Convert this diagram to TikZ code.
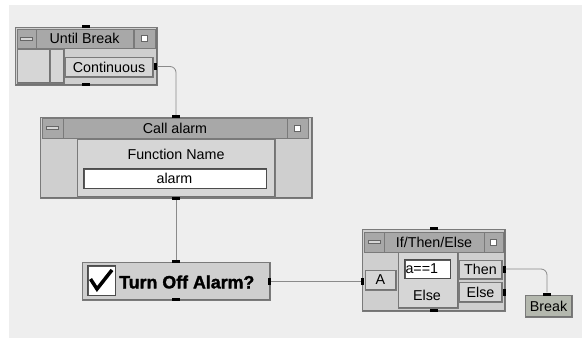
\documentclass[tikz,border=0pt]{standalone}
\usepackage{fontspec}
\setsansfont{Liberation Sans}
\newfontfamily\heavyfont{Liberation Sans}[BoldFont={Liberation Sans Bold}, BoldFeatures={FakeBold=1.6}]
\usepackage{xcolor}
\definecolor{veeBg}{HTML}{EEEEEE}
\definecolor{veeBody}{HTML}{CFCFCF}
\definecolor{veeBtn}{HTML}{D6D6D6}
\definecolor{veeTitle}{HTML}{A8A8A8}
\definecolor{veeEdge}{HTML}{7A7A7A}
\definecolor{veeWire}{HTML}{8A8A8A}
\definecolor{veeBreak}{HTML}{B4B8AE}

\tikzset{
    raised/.style={path picture={
        \draw[white,line width=2pt] (path picture bounding box.south west) |- (path picture bounding box.north east);
        \draw[black!55,line width=2pt] (path picture bounding box.south west) -| (path picture bounding box.north east);}},
    sunken/.style={path picture={
        \draw[black!65,line width=3pt] (path picture bounding box.south west) |- (path picture bounding box.north east);}},
    box/.style={draw=veeEdge, fill=veeBody, inner sep=0pt, raised},
    titlebar/.style={draw=veeEdge, fill=veeTitle, inner sep=0pt, font=\sffamily\fontsize{14.3}{16}\selectfont},
    btn/.style={draw=veeEdge, fill=veeBtn, inner sep=0pt, raised, font=\sffamily\fontsize{14.3}{16}\selectfont},
    minbtn/.style={btn, fill=veeTitle, path picture={
        \draw[black!60, fill=veeBtn] ([xshift=-6pt,yshift=-1.5pt]path picture bounding box.center) rectangle ([xshift=6pt,yshift=1.5pt]path picture bounding box.center);}},
    maxbtn/.style={btn, fill=veeTitle, path picture={
        \draw[black!60, fill=white] ([xshift=-3pt,yshift=-3pt]path picture bounding box.center) rectangle ([xshift=3pt,yshift=3pt]path picture bounding box.center);}},
    field/.style={draw=black!70, fill=white, inner sep=1pt, sunken, font=\sffamily\fontsize{14.3}{16}\selectfont},
    pin/.style={fill=black, inner sep=0pt},
    wire/.style={draw=veeWire, line width=0.8pt, rounded corners=6pt}
}

\begin{document}
\begin{tikzpicture}[x=1pt, y=-1pt]
    \useasboundingbox (0,0) rectangle (582,338);
    \fill[veeBg] (9,5) rectangle (582,338);

    % Until Break
    \node[box, minimum width=142, minimum height=58] (ub) at (86,56) {};
    \node[minbtn, minimum width=19, minimum height=19] (ubMin) at (26.5,38.5) {};
    \node[titlebar, minimum width=97, minimum height=19] (ubTitle) at (84.5,38.5) {Until Break};
    \node[maxbtn, minimum width=21, minimum height=19] (ubMax) at (144.5,38.5) {};
    \node[btn, minimum width=33, minimum height=34] (ubLeft) at (33.5,66) {};
    \node[btn, minimum width=14, minimum height=34] (ubSlider) at (57,66) {};
    \node[btn, minimum width=88, minimum height=20] (ubCont) at (109,67) {Continuous};
    \node[pin, minimum width=8, minimum height=3] (ubTop) at (86,26.5) {};
    \node[pin, minimum width=8, minimum height=3] (ubBot) at (86,84.5) {};
    \node[pin, minimum width=3, minimum height=7] (ubOut) at (155.5,66.5) {};

    % Call alarm
    \node[box, minimum width=272, minimum height=81] (ca) at (176,157.5) {};
    \node[minbtn, minimum width=21, minimum height=20] (caMin) at (52.5,128) {};
    \node[titlebar, minimum width=224, minimum height=20] (caTitle) at (175,128) {Call alarm};
    \node[maxbtn, minimum width=21, minimum height=20] (caMax) at (297.5,128) {};
    \node[btn, minimum width=198, minimum height=58] (caPanel) at (176,168) {};
    \node[font=\sffamily\fontsize{14.3}{16}\selectfont] (caLabel) at (176,154) {Function Name};
    \node[field, minimum width=183, minimum height=20] (caName) at (174.5,178) {alarm};
    \node[pin, minimum width=8, minimum height=3] (caTop) at (176,116.5) {};
    \node[pin, minimum width=8, minimum height=3] (caBot) at (176,198.5) {};

    % Turn Off Alarm?
    \node[box, minimum width=188, minimum height=38] (to) at (176,281) {};
    \node[field, minimum width=28, minimum height=30] (toCheck) at (101,280) {};
    \draw[line width=3.5pt, line join=miter] (90.5,279) -- (97,289) -- (112,270);
    \node[anchor=west, inner sep=0pt, font=\heavyfont\bfseries\fontsize{17.8}{20}\selectfont] (toText) at (119,282) {Turn Off Alarm?};
    \node[pin, minimum width=8, minimum height=3] (toTop) at (176,261.5) {};
    \node[pin, minimum width=8, minimum height=3] (toBot) at (176,299.5) {};
    \node[pin, minimum width=3, minimum height=7] (toOut) at (269.5,281) {};

    % If/Then/Else
    \node[box, minimum width=143, minimum height=82] (ite) at (433.5,270) {};
    \node[minbtn, minimum width=20, minimum height=20] (iteMin) at (374,242) {};
    \node[titlebar, minimum width=100, minimum height=20] (iteTitle) at (434,242) {If/Then/Else};
    \node[maxbtn, minimum width=19, minimum height=20] (iteMax) at (493.5,242) {};
    \node[btn, minimum width=60, minimum height=56] (itePanel) at (428,280) {};
    \node[btn, minimum width=31, minimum height=20] (iteA) at (380.5,280) {A};
    \node[field, minimum width=46, minimum height=19, text width=43, align=left] (iteCond) at (427,268.5) {a==1};
    \node[font=\sffamily\fontsize{14.3}{16}\selectfont] (iteElseLbl) at (427,295) {Else};
    \node[btn, minimum width=43, minimum height=19] (iteThen) at (480.5,269.5) {Then};
    \node[btn, minimum width=43, minimum height=20] (iteElse) at (480.5,292) {Else};
    \node[pin, minimum width=8, minimum height=3] (iteTop) at (434,228.5) {};
    \node[pin, minimum width=8, minimum height=3] (iteBot) at (434,310.5) {};
    \node[pin, minimum width=3, minimum height=7] (iteIn) at (362.5,281) {};
    \node[pin, minimum width=3, minimum height=7] (iteThenOut) at (504,269) {};
    \node[pin, minimum width=3, minimum height=7] (iteElseOut) at (504,292.5) {};

    % Break
    \node[btn, fill=veeBreak, minimum width=47, minimum height=22] (br) at (548.5,306) {Break};
    \node[pin, minimum width=8, minimum height=3] (brTop) at (547,294) {};

    % wires
    \draw[wire] (ubOut.east) -| (caTop.north);
    \draw[wire] (caBot.south) -- (toTop.north);
    \draw[wire] (toOut.east) -- (iteIn.west);
    \draw[wire] (iteThenOut.east) -| (brTop.north);
\end{tikzpicture}
\end{document}
